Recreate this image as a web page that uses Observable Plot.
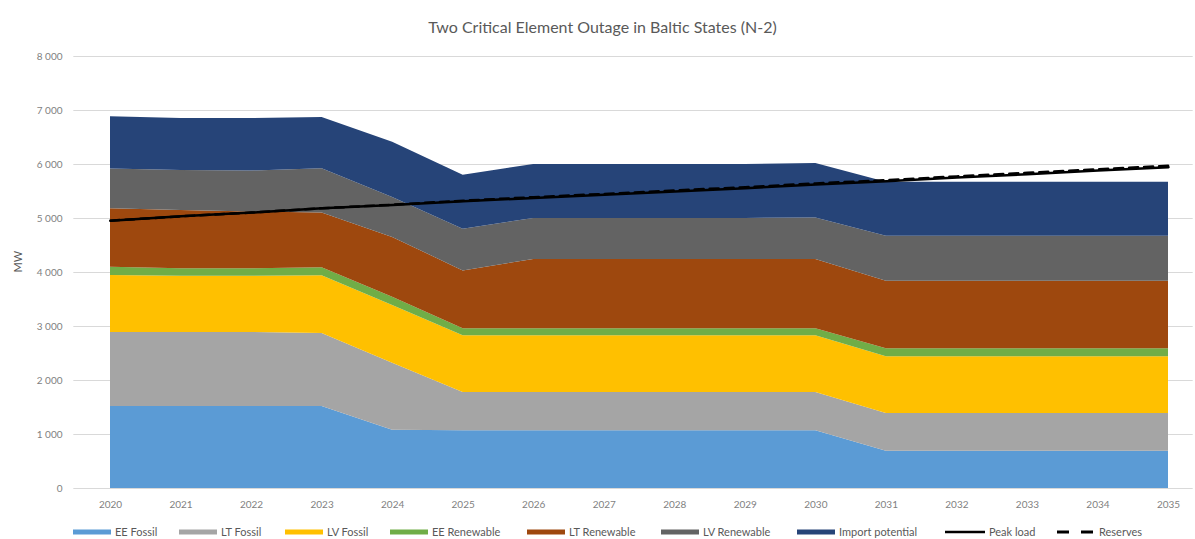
<!DOCTYPE html>
<html>
<head>
<meta charset="utf-8">
<script src="https://cdn.jsdelivr.net/npm/d3@7"></script>
<script src="https://cdn.jsdelivr.net/npm/@observablehq/plot@0.6"></script>
<style>
  html, body { margin: 0; padding: 0; background: #fff; }
  body { width: 1195px; height: 539px; overflow: hidden; font-family: Lato, "Open Sans", sans-serif; }
  #title { height: 40px; box-sizing: border-box; padding-top: 17px; padding-left: 10px; text-align: center;
           font-size: 16px; line-height: 20px; color: #595959; }
  #chart svg { display: block; }
  #legend { position: relative; height: 21px; }
  .item { position: absolute; top: 7px; display: flex; align-items: center; font-size: 11px; color: #595959; line-height: 14px; white-space: nowrap; }
  .item svg { display: block; margin-right: 4px; }
</style>
</head>
<body>
<div id="title">Two Critical Element Outage in Baltic States (N-2)</div>
<div id="chart"></div>
<div id="legend"></div>
<script>
// ---- data ----
const years = [2020, 2021, 2022, 2023, 2024, 2025, 2026, 2027, 2028, 2029, 2030, 2031, 2032, 2033, 2034, 2035];
const seriesNames = ["EE Fossil", "LT Fossil", "LV Fossil", "EE Renewable", "LT Renewable", "LV Renewable", "Import potential"];
const eeFossil     = [1520, 1520, 1520, 1520, 1080, 1070, 1070, 1070, 1070, 1070, 1070, 690, 690, 690, 690, 690];
const ltFossil     = [1370, 1370, 1370, 1350, 1240, 710, 710, 710, 710, 710, 710, 700, 700, 700, 700, 700];
const lvFossil     = [1055, 1040, 1040, 1070, 1070, 1050, 1050, 1050, 1050, 1050, 1050, 1050, 1050, 1050, 1050, 1050];
const eeRenewable  = [150, 140, 140, 150, 150, 130, 130, 130, 130, 130, 130, 150, 150, 150, 150, 150];
const ltRenewable  = [1085, 1080, 1050, 1010, 1110, 1070, 1280, 1280, 1280, 1280, 1280, 1250, 1250, 1250, 1250, 1250];
const lvRenewable  = [735, 740, 760, 820, 740, 770, 760, 760, 760, 760, 770, 830, 830, 830, 830, 830];
const importPot    = [970, 960, 970, 950, 1020, 1000, 1000, 1000, 1000, 1000, 1010, 1000, 1000, 1000, 1000, 1000];
const peakLoad     = [4960, 5040, 5110, 5190, 5250, 5320, 5380, 5440, 5500, 5560, 5630, 5690, 5760, 5820, 5890, 5950];
const reserves     = [4960, 5040, 5110, 5190, 5255, 5330, 5395, 5455, 5520, 5580, 5650, 5710, 5780, 5845, 5910, 5975];
const yTicks       = [0, 1000, 2000, 3000, 4000, 5000, 6000, 7000, 8000];

// ---- styles ----
const palette = ["#5B9BD5", "#A5A5A5", "#FFC000", "#70AD47", "#9E480E", "#636363", "#264478"];

const seriesValues = [eeFossil, ltFossil, lvFossil, eeRenewable, ltRenewable, lvRenewable, importPot];
const rows = [];
seriesNames.forEach((s, i) => years.forEach((y, j) => rows.push({year: y, series: s, value: seriesValues[i][j]})));
const peakRows = years.map((y, j) => ({year: y, value: peakLoad[j]}));
const resRows = years.map((y, j) => ({year: y, value: reserves[j]}));

const fmt = d => d3.format(",")(d).replace(/,/g, " ");

const chart = Plot.plot({
  width: 1195,
  height: 478,
  marginTop: 16,
  marginBottom: 30,
  marginLeft: 110,
  marginRight: 27,
  style: {fontFamily: "Lato, 'Open Sans', sans-serif", fontSize: "10px", color: "#7f7f7f", background: "#fff"},
  x: {domain: [2020, 2035], label: null},
  y: {domain: [0, 8000], label: null},
  color: {domain: seriesNames, range: palette},
  marks: [
    Plot.ruleY(yTicks, {x1: 2019.48, x2: 2035.35, stroke: "#d9d9d9", strokeWidth: 1}),
    Plot.areaY(rows, {x: "year", y: "value", z: "series", fill: "series", order: seriesNames, curve: "linear"}),
    Plot.lineY(peakRows, {x: "year", y: "value", stroke: "#000", strokeWidth: 2.5}),
    Plot.lineY(resRows, {x: "year", y: "value", stroke: "#000", strokeWidth: 2.5, strokeDasharray: "9,6"}),
    Plot.axisX({ticks: years, tickFormat: d => String(d), tickSize: 0, tickPadding: 12, fill: "#7f7f7f", label: null}),
    Plot.axisY({ticks: yTicks, tickFormat: fmt, tickSize: 0, tickPadding: 48, fill: "#7f7f7f", label: null}),
    Plot.text(["MW"], {text: d => d, frameAnchor: "left", dx: -92, rotate: -90, fontSize: 11, fill: "#595959"})
  ]
});
document.getElementById("chart").appendChild(chart);

// ---- legend ----
const legendItems = seriesNames.map((n, i) => ({name: n, type: "area", color: palette[i]}))
  .concat([{name: "Peak load", type: "line"}, {name: "Reserves", type: "dash"}]);
const legendLeft = [73, 179, 285, 390, 527, 661, 797, 945, 1057];
const legend = document.getElementById("legend");
legendItems.forEach((it, i) => {
  const div = document.createElement("div");
  div.className = "item";
  div.style.left = legendLeft[i] + "px";
  let sw;
  if (it.type === "area") {
    sw = `<svg width="38" height="8"><rect x="0" y="1.5" width="38" height="5" fill="${it.color}"/></svg>`;
  } else if (it.type === "line") {
    sw = `<svg width="40" height="8"><line x1="0" x2="40" y1="4" y2="4" stroke="#000" stroke-width="2.5"/></svg>`;
  } else {
    sw = `<svg width="38" height="8"><line x1="0" x2="38" y1="4" y2="4" stroke="#000" stroke-width="3" stroke-dasharray="12,12"/></svg>`;
  }
  div.innerHTML = sw + `<span>${it.name}</span>`;
  legend.appendChild(div);
});
</script>
</body>
</html>
